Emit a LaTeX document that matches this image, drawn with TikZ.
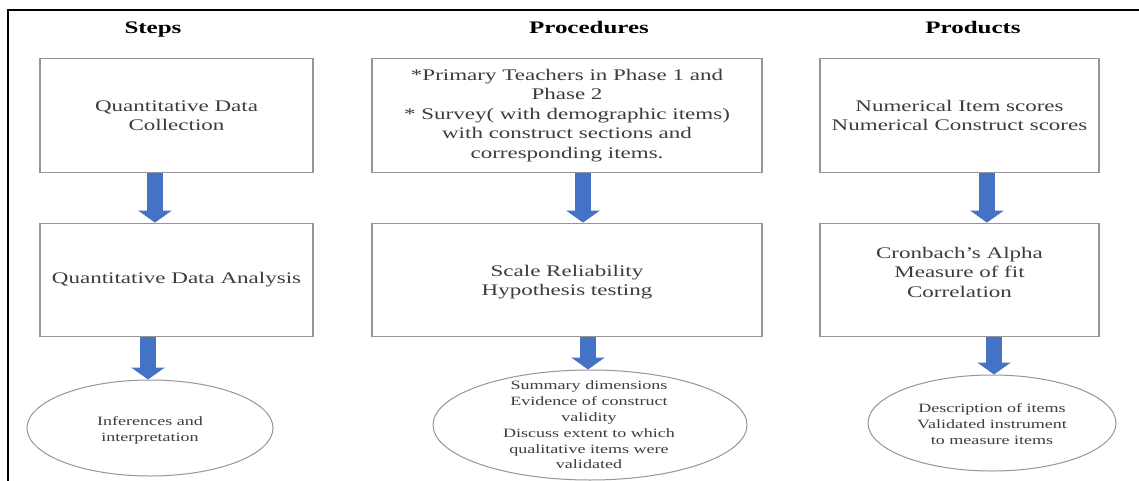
\documentclass[tikz,border=0pt]{standalone}
\usepackage{fontspec}
\setmainfont{Liberation Serif}[FakeStretch=1.42]
\usetikzlibrary{shapes.geometric,arrows.meta}
\definecolor{boxgray}{RGB}{150,150,150}
\definecolor{txtgray}{RGB}{60,60,60}
\definecolor{arrowblue}{RGB}{68,114,196}
\begin{document}
\begin{tikzpicture}[x=1pt,y=-1pt,
  box/.style={draw=boxgray,line width=1.3pt,rectangle,minimum height=113.5pt,inner sep=0pt,align=center,text=txtgray,font=\fontsize{16.2}{19.5}\selectfont},
  boxtext/.style={align=center,text=txtgray,font=\fontsize{16.2}{19.5}\selectfont,inner sep=0pt},
  oval/.style={draw=boxgray,line width=1pt,ellipse,inner sep=0pt},
  ovaltext/.style={align=center,text=txtgray,font=\fontsize{12.7}{15.8}\selectfont,inner sep=0pt},
  heading/.style={font=\fontsize{17.6}{20}\selectfont\bfseries,anchor=base,inner sep=0pt},
  flow/.style={arrowblue,line width=16pt,-{Triangle[width=33pt,length=12pt]}}
]
\useasboundingbox (0,0) rectangle (1139,481);
\fill[white] (0,0) rectangle (1139,481);
\coordinate (fl) at (8,481);
\coordinate (fc) at (8,10);
\coordinate (fr) at (1139,10);
\draw[line width=2pt,line join=miter] (fl) -- (fc) -- (fr);

% headings
\node[heading] (h1) at (153,34) {Steps};
\node[heading] (h2) at (589,34) {Procedures};
\node[heading] (h3) at (973,34) {Products};

% Steps column
\node[box,minimum width=273pt] (s1) at (176.5,115.5) {Quantitative Data\\Collection};
\node[box,minimum width=273pt] (s2) at (176.5,280) {Quantitative Data Analysis};
\node[oval,minimum width=246pt,minimum height=96pt] (e1) at (150,428) {};
\node[ovaltext] (t1) at (150,430) {Inferences and\\interpretation};

% Procedures column
\node[box,minimum width=390pt] (p1) at (567,115.5) {*Primary Teachers in Phase 1 and\\Phase 2\\* Survey( with demographic items)\\with construct sections and\\corresponding items.};
\node[box,minimum width=390pt] (p2) at (567,280) {};
\node[boxtext] (p2t) at (567,282) {Scale Reliability\\Hypothesis testing};
\node[oval,minimum width=314pt,minimum height=110pt] (e2) at (590,425) {};
\node[ovaltext] (t2) at (589,425) {Summary dimensions\\Evidence of construct\\validity\\Discuss extent to which\\qualitative items were\\validated};

% Products column
\node[box,minimum width=279pt] (r1) at (959.5,115.5) {Numerical Item scores\\Numerical Construct scores};
\node[box,minimum width=279pt] (r2) at (959.5,280) {};
\node[boxtext] (r2t) at (959.5,272) {Cronbach’s Alpha\\Measure of fit\\Correlation};
\node[oval,minimum width=248pt,minimum height=96pt] (e3) at (992,423) {};
\node[ovaltext] (t3) at (992,424) {Description of items\\Validated instrument\\to measure items};

% arrows
\draw[flow] ([xshift=-21.5pt]s1.south) -- ([xshift=-21.5pt]s2.north);
\draw[flow] ([xshift=-28.5pt]s2.south) -- ([xshift=-2pt]e1.north);
\draw[flow] ([xshift=16pt]p1.south) -- ([xshift=16pt]p2.north);
\draw[flow] ([xshift=21pt]p2.south) -- ([xshift=-2pt]e2.north);
\draw[flow] ([xshift=27.5pt]r1.south) -- ([xshift=27.5pt]r2.north);
\draw[flow] ([xshift=34.5pt]r2.south) -- ([xshift=2pt]e3.north);
\end{tikzpicture}
\end{document}
